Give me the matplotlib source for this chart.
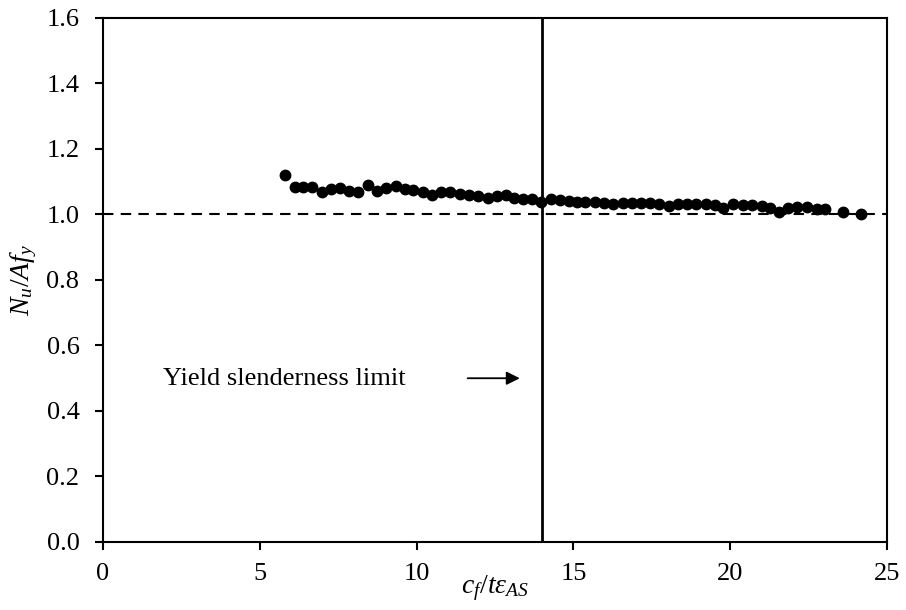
import matplotlib
matplotlib.use("Agg")
import matplotlib.pyplot as plt

plt.rcParams["font.family"] = ["Liberation Serif", "DejaVu Serif"]
plt.rcParams["mathtext.fontset"] = "custom"
plt.rcParams["mathtext.rm"] = "Liberation Serif"
plt.rcParams["mathtext.it"] = "Liberation Serif:italic"

# slenderness c_f/t*eps_AS vs normalised capacity N_u/(A f_y)
slenderness = [
    5.80, 6.12, 6.39, 6.67, 6.99, 7.27, 7.56, 7.84, 8.14, 8.44,
    8.73, 9.01, 9.33, 9.62, 9.89, 10.19, 10.48, 10.77, 11.07, 11.38,
    11.68, 11.97, 12.27, 12.55, 12.84, 13.12, 13.40, 13.69, 13.97, 14.28,
    14.57, 14.86, 15.11, 15.37, 15.69, 15.98, 16.27, 16.59, 16.88, 17.16,
    17.44, 17.74, 18.05, 18.33, 18.61, 18.91, 19.23, 19.52, 19.78, 20.10,
    20.40, 20.70, 21.00, 21.27, 21.57, 21.85, 22.14, 22.46, 22.76, 23.02,
    23.61, 24.16,
]
capacity = [
    1.121, 1.085, 1.083, 1.083, 1.068, 1.077, 1.080, 1.072, 1.068, 1.090,
    1.072, 1.080, 1.087, 1.078, 1.075, 1.070, 1.060, 1.068, 1.068, 1.063,
    1.060, 1.057, 1.051, 1.057, 1.060, 1.051, 1.047, 1.047, 1.039, 1.046,
    1.044, 1.041, 1.037, 1.037, 1.037, 1.034, 1.031, 1.036, 1.034, 1.034,
    1.034, 1.031, 1.026, 1.031, 1.031, 1.031, 1.031, 1.029, 1.019, 1.031,
    1.029, 1.029, 1.027, 1.021, 1.009, 1.021, 1.024, 1.022, 1.016, 1.016,
    1.009, 1.002,
]
yield_limit = 14
x_ticks = [0, 5, 10, 15, 20, 25]
y_ticks = [0.0, 0.2, 0.4, 0.6, 0.8, 1.0, 1.2, 1.4, 1.6]

fig = plt.figure(figsize=(9.06, 6.10), dpi=100)
ax = fig.add_axes([0.1137, 0.1115, 0.8653, 0.859])

ax.axhline(1.0, color="black", linestyle=(0, (5, 3.5)), linewidth=1.5, zorder=1)
ax.axvline(yield_limit, color="black", linewidth=2.0, zorder=1)
ax.plot(slenderness, capacity, "o", color="black", markersize=7.5,
        linestyle="none", zorder=3)

ax.text(1.91, 0.497, "Yield slenderness limit", fontsize=19,
        ha="left", va="center")
ax.annotate("", xy=(13.38, 0.50), xytext=(11.54, 0.50),
            arrowprops=dict(arrowstyle="-|>", color="black", lw=1.3,
                            mutation_scale=20))

ax.set_xlim(0, 25)
ax.set_ylim(0, 1.6)
ax.set_xticks(x_ticks)
ax.set_xticklabels([str(v) for v in x_ticks])
ax.set_yticks(y_ticks)
ax.set_yticklabels([f"{v:.1f}" for v in y_ticks])
ax.tick_params(direction="out", length=6, width=1.5, labelsize=19)
ax.tick_params(axis="y", pad=11)
ax.tick_params(axis="x", pad=9)
for s in ax.spines.values():
    s.set_linewidth(1.5)

ax.set_xlabel(r"$c_f/t\varepsilon_{AS}$", fontsize=20, labelpad=-8)
ax.set_ylabel(r"$N_u/Af_y$", fontsize=20, labelpad=5)

fig.savefig("out.png", dpi=100)
